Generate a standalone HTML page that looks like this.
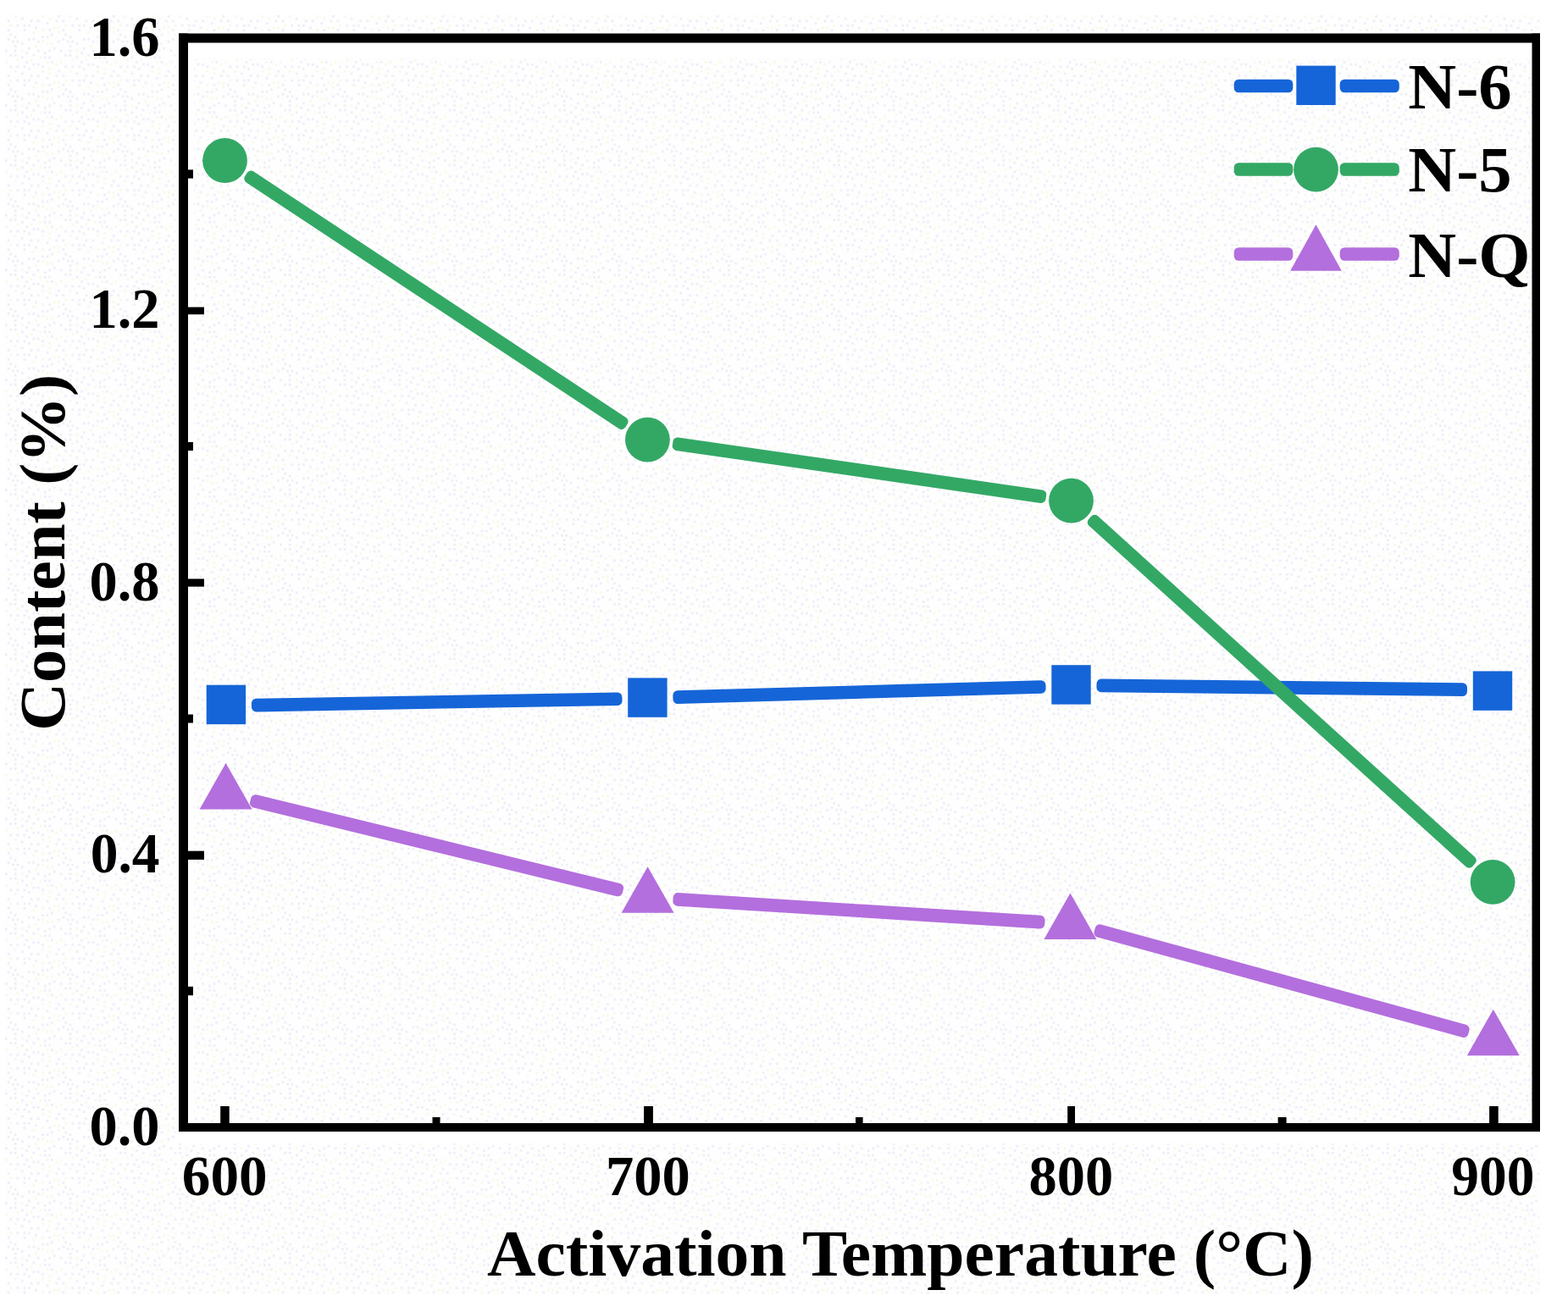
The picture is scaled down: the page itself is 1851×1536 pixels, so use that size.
<!DOCTYPE html>
<html lang="en">
<head>
<meta charset="utf-8">
<title>Content (%) vs Activation Temperature</title>
<style>
html,body{margin:0;padding:0;background:#fff;}
body{width:1851px;height:1536px;overflow:hidden;}
svg{display:block;}
text{font-family:"Liberation Serif","DejaVu Serif",serif;font-weight:bold;fill:#000;}
</style>
</head>
<body>
<svg width="1851" height="1536" viewBox="0 0 1851 1536">
<defs>
<pattern id="dither" x="6" y="18" width="64.8" height="64.8" patternUnits="userSpaceOnUse">
<rect width="64.8" height="64.8" fill="#fefefe"/>
<rect x="27.0" y="10.8" width="2.7" height="2.7" fill="#ededf8"/>
<rect x="2.7" y="5.4" width="2.7" height="2.7" fill="#ededf8"/>
<rect x="8.1" y="29.7" width="2.7" height="2.7" fill="#ededf8"/>
<rect x="43.2" y="16.2" width="2.7" height="2.7" fill="#f4fbe6"/>
<rect x="35.1" y="35.1" width="2.7" height="2.7" fill="#f4fbe6"/>
<rect x="5.4" y="45.9" width="2.7" height="2.7" fill="#ededf8"/>
<rect x="48.6" y="8.1" width="2.7" height="2.7" fill="#ededf8"/>
<rect x="54.0" y="54.0" width="2.7" height="2.7" fill="#ededf8"/>
<rect x="48.6" y="32.4" width="2.7" height="2.7" fill="#f4fbe6"/>
<rect x="18.9" y="2.7" width="2.7" height="2.7" fill="#ededf8"/>
<rect x="10.8" y="24.3" width="2.7" height="2.7" fill="#ededf8"/>
<rect x="48.6" y="24.3" width="2.7" height="2.7" fill="#ededf8"/>
<rect x="56.7" y="13.5" width="2.7" height="2.7" fill="#f4fbe6"/>
<rect x="48.6" y="54.0" width="2.7" height="2.7" fill="#f4fbe6"/>
<rect x="59.4" y="5.4" width="2.7" height="2.7" fill="#ededf8"/>
<rect x="51.3" y="16.2" width="2.7" height="2.7" fill="#ededf8"/>
<rect x="27.0" y="37.8" width="2.7" height="2.7" fill="#ededf8"/>
<rect x="37.8" y="29.7" width="2.7" height="2.7" fill="#ededf8"/>
<rect x="13.5" y="59.4" width="2.7" height="2.7" fill="#ededf8"/>
<rect x="24.3" y="43.2" width="2.7" height="2.7" fill="#ededf8"/>
<rect x="27.0" y="62.1" width="2.7" height="2.7" fill="#ededf8"/>
<rect x="35.1" y="13.5" width="2.7" height="2.7" fill="#ededf8"/>
<rect x="10.8" y="40.5" width="2.7" height="2.7" fill="#ededf8"/>
<rect x="45.9" y="48.6" width="2.7" height="2.7" fill="#ededf8"/>
<rect x="27.0" y="27.0" width="2.7" height="2.7" fill="#ededf8"/>
<rect x="51.3" y="40.5" width="2.7" height="2.7" fill="#ededf8"/>
<rect x="37.8" y="5.4" width="2.7" height="2.7" fill="#ededf8"/>
<rect x="59.4" y="56.7" width="2.7" height="2.7" fill="#f4fbe6"/>
<rect x="24.3" y="54.0" width="2.7" height="2.7" fill="#ededf8"/>
<rect x="56.7" y="37.8" width="2.7" height="2.7" fill="#ededf8"/>
<rect x="32.4" y="56.7" width="2.7" height="2.7" fill="#ededf8"/>
<rect x="13.5" y="51.3" width="2.7" height="2.7" fill="#f4fbe6"/>
<rect x="2.7" y="16.2" width="2.7" height="2.7" fill="#ededf8"/>
<rect x="18.9" y="32.4" width="2.7" height="2.7" fill="#ededf8"/>
<rect x="32.4" y="45.9" width="2.7" height="2.7" fill="#ededf8"/>
<rect x="10.8" y="35.1" width="2.7" height="2.7" fill="#ededf8"/>
<rect x="21.6" y="59.4" width="2.7" height="2.7" fill="#ededf8"/>
<rect x="32.4" y="18.9" width="2.7" height="2.7" fill="#f4fbe6"/>
<rect x="13.5" y="10.8" width="2.7" height="2.7" fill="#ededf8"/>
<rect x="40.5" y="48.6" width="2.7" height="2.7" fill="#f4fbe6"/>
<rect x="51.3" y="48.6" width="2.7" height="2.7" fill="#ededf8"/>
<rect x="37.8" y="56.7" width="2.7" height="2.7" fill="#ededf8"/>
<rect x="54.0" y="32.4" width="2.7" height="2.7" fill="#f4fbe6"/>
<rect x="51.3" y="2.7" width="2.7" height="2.7" fill="#f4fbe6"/>
<rect x="29.7" y="51.3" width="2.7" height="2.7" fill="#f4fbe6"/>
<rect x="54.0" y="21.6" width="2.7" height="2.7" fill="#ededf8"/>
<rect x="37.8" y="40.5" width="2.7" height="2.7" fill="#ededf8"/>
<rect x="5.4" y="10.8" width="2.7" height="2.7" fill="#f4fbe6"/>
<rect x="43.2" y="0.0" width="2.7" height="2.7" fill="#f4fbe6"/>
<rect x="43.2" y="29.7" width="2.7" height="2.7" fill="#f4fbe6"/>
<rect x="43.2" y="24.3" width="2.7" height="2.7" fill="#ededf8"/>
<rect x="5.4" y="59.4" width="2.7" height="2.7" fill="#ededf8"/>
<rect x="13.5" y="29.7" width="2.7" height="2.7" fill="#ededf8"/>
<rect x="62.1" y="18.9" width="2.7" height="2.7" fill="#f4fbe6"/>
<rect x="62.1" y="0.0" width="2.7" height="2.7" fill="#ededf8"/>
<rect x="21.6" y="16.2" width="2.7" height="2.7" fill="#ededf8"/>
<rect x="62.1" y="29.7" width="2.7" height="2.7" fill="#ededf8"/>
<rect x="29.7" y="5.4" width="2.7" height="2.7" fill="#ededf8"/>
<rect x="18.9" y="40.5" width="2.7" height="2.7" fill="#f4fbe6"/>
<rect x="0.0" y="40.5" width="2.7" height="2.7" fill="#ededf8"/>
<rect x="62.1" y="13.5" width="2.7" height="2.7" fill="#f4fbe6"/>
<rect x="10.8" y="0.0" width="2.7" height="2.7" fill="#f4fbe6"/>
<rect x="10.8" y="45.9" width="2.7" height="2.7" fill="#ededf8"/>
<rect x="18.9" y="48.6" width="2.7" height="2.7" fill="#ededf8"/>
<rect x="51.3" y="62.1" width="2.7" height="2.7" fill="#f4fbe6"/>
<rect x="2.7" y="27.0" width="2.7" height="2.7" fill="#ededf8"/>
<rect x="21.6" y="10.8" width="2.7" height="2.7" fill="#ededf8"/>
<rect x="32.4" y="27.0" width="2.7" height="2.7" fill="#ededf8"/>
<rect x="5.4" y="21.6" width="2.7" height="2.7" fill="#ededf8"/>
<rect x="45.9" y="43.2" width="2.7" height="2.7" fill="#ededf8"/>
<rect x="0.0" y="54.0" width="2.7" height="2.7" fill="#f4fbe6"/>
<rect x="43.2" y="59.4" width="2.7" height="2.7" fill="#ededf8"/>
</pattern>
</defs>
<rect x="0" y="0" width="1851" height="1536" fill="#ffffff"/>
<rect x="6" y="18" width="1812" height="1510" fill="url(#dither)"/>
<rect x="207" y="37" width="1611" height="1313" fill="#ffffff"/>
<rect x="229" y="69" width="1580" height="1257" fill="url(#dither)"/>

<g fill="#000">
<rect x="211" y="39.5" width="1607" height="11"/>
<rect x="211" y="1326" width="1607" height="10"/>
<rect x="211" y="39.5" width="11" height="1296.5"/>
<rect x="1808.5" y="39.5" width="9.5" height="1296.5"/>
<rect x="222" y="362.6" width="19" height="8.6"/>
<rect x="222" y="683.4" width="19" height="9.2"/>
<rect x="222" y="1004.7" width="19" height="10.2"/>
<rect x="222" y="200.4" width="6" height="10.2"/>
<rect x="222" y="522.0" width="6" height="10"/>
<rect x="222" y="843.5" width="6" height="10"/>
<rect x="222" y="1164.8" width="6" height="10.4"/>
<rect x="260.2" y="1306" width="10.5" height="20"/>
<rect x="760.1" y="1306" width="10.8" height="20"/>
<rect x="1260.2" y="1306" width="8.8" height="20"/>
<rect x="1758.1" y="1306" width="10.6" height="20"/>
<rect x="510.5" y="1319" width="9" height="7"/>
<rect x="1010.0" y="1319" width="8.6" height="7"/>
<rect x="1508.6" y="1319" width="10" height="7"/>
</g>
<rect x="0" y="-7.8" width="437.6" height="15.6" rx="5.5" fill="#1565D8" transform="translate(296.9,832.7) rotate(-0.990)"/>
<rect x="0" y="-7.8" width="440.3" height="15.6" rx="5.5" fill="#1565D8" transform="translate(794.4,823.3) rotate(-1.615)"/>
<rect x="0" y="-7.8" width="437.5" height="15.6" rx="5.5" fill="#1565D8" transform="translate(1294.5,809.3) rotate(0.645)"/>
<rect x="0" y="-7.8" width="538.0" height="15.6" rx="5.5" fill="#33A865" transform="translate(290.5,206.0) rotate(33.459)"/>
<rect x="0" y="-7.8" width="445.3" height="15.6" rx="5.5" fill="#33A865" transform="translate(794.1,523.5) rotate(8.193)"/>
<rect x="0" y="-7.8" width="611.0" height="15.6" rx="5.5" fill="#33A865" transform="translate(1286.7,611.3) rotate(42.131)"/>
<rect x="0" y="-7.8" width="452.6" height="15.6" rx="5.5" fill="#B36FDD" transform="translate(295.7,944.6) rotate(13.711)"/>
<rect x="0" y="-7.8" width="439.8" height="15.6" rx="5.5" fill="#B36FDD" transform="translate(794.5,1061.5) rotate(3.579)"/>
<rect x="0" y="-7.8" width="457.9" height="15.6" rx="5.5" fill="#B36FDD" transform="translate(1292.3,1097.5) rotate(15.362)"/>
<rect x="243.7" y="808.7" width="46.4" height="46.4" fill="#1565D8"/>
<rect x="741.2" y="800.4" width="46.4" height="46.4" fill="#1565D8"/>
<rect x="1241.3" y="785.2" width="46.4" height="46.4" fill="#1565D8"/>
<rect x="1738.8" y="792.4" width="46.4" height="46.4" fill="#1565D8"/>
<circle cx="265.5" cy="189.5" r="26.4" fill="#33A865"/>
<circle cx="764.4" cy="519.2" r="26.4" fill="#33A865"/>
<circle cx="1264.5" cy="591.2" r="26.4" fill="#33A865"/>
<circle cx="1762.1" cy="1041.3" r="26.4" fill="#33A865"/>
<polygon points="266.6,900.9 297.6,955.4 235.6,955.4" fill="#B36FDD"/>
<polygon points="764.6,1023.3 795.6,1077.8 733.6,1077.8" fill="#B36FDD"/>
<polygon points="1263.4,1054.5 1294.4,1109.0 1232.4,1109.0" fill="#B36FDD"/>
<polygon points="1762.8,1191.7 1793.8,1246.2 1731.8,1246.2" fill="#B36FDD"/>
<rect x="0" y="-7.8" width="69.6" height="15.6" rx="5.5" fill="#1565D8" transform="translate(1456.7,101.5) rotate(0.000)"/>
<rect x="0" y="-7.8" width="70.1" height="15.6" rx="5.5" fill="#1565D8" transform="translate(1581.7,101.5) rotate(0.000)"/>
<rect x="1530.3" y="77.6" width="46.4" height="46.4" fill="#1565D8"/>
<rect x="0" y="-7.8" width="69.6" height="15.6" rx="5.5" fill="#33A865" transform="translate(1456.7,200.0) rotate(0.000)"/>
<rect x="0" y="-7.8" width="70.1" height="15.6" rx="5.5" fill="#33A865" transform="translate(1581.7,200.0) rotate(0.000)"/>
<circle cx="1553.5" cy="200.2" r="26.4" fill="#33A865"/>
<rect x="0" y="-7.8" width="69.6" height="15.6" rx="5.5" fill="#B36FDD" transform="translate(1456.7,300.0) rotate(0.000)"/>
<rect x="0" y="-7.8" width="70.1" height="15.6" rx="5.5" fill="#B36FDD" transform="translate(1581.7,300.0) rotate(0.000)"/>
<polygon points="1553.5,265.2 1583.8,319.7 1523.2,319.7" fill="#B36FDD"/>
<text transform="translate(1662.3,127.5) scale(1.036,1)" font-size="76" text-anchor="start">N-6</text>
<text transform="translate(1662.3,226.3) scale(1.036,1)" font-size="76" text-anchor="start">N-5</text>
<text transform="translate(1662.3,326.6) scale(1.036,1)" font-size="76" text-anchor="start">N-Q</text>
<text transform="translate(188.6,65.6) scale(0.985,1)" font-size="67.5" text-anchor="end">1.6</text>
<text transform="translate(188.6,387.2) scale(0.985,1)" font-size="67.5" text-anchor="end">1.2</text>
<text transform="translate(188.6,708.9) scale(0.985,1)" font-size="67.5" text-anchor="end">0.8</text>
<text transform="translate(188.6,1030.4) scale(0.97,1)" font-size="67.5" text-anchor="end">0.4</text>
<text transform="translate(188.6,1351.6) scale(0.985,1)" font-size="67.5" text-anchor="end">0.0</text>
<text transform="translate(265.2,1411) scale(0.995,1)" font-size="67.5" text-anchor="middle">600</text>
<text transform="translate(764.8,1411) scale(0.985,1)" font-size="67.5" text-anchor="middle">700</text>
<text transform="translate(1264.3,1411) scale(0.985,1)" font-size="67.5" text-anchor="middle">800</text>
<text transform="translate(1762.4,1411) scale(0.97,1)" font-size="67.5" text-anchor="middle">900</text>
<text transform="translate(1063,1505.7) scale(1.0198,1)" font-size="78" text-anchor="middle">Activation Temperature (°C)</text>
<text transform="translate(76,652.3) rotate(-90) scale(1.0267,1)" font-size="76.5" text-anchor="middle">Content (%)</text>
</svg>
</body>
</html>
